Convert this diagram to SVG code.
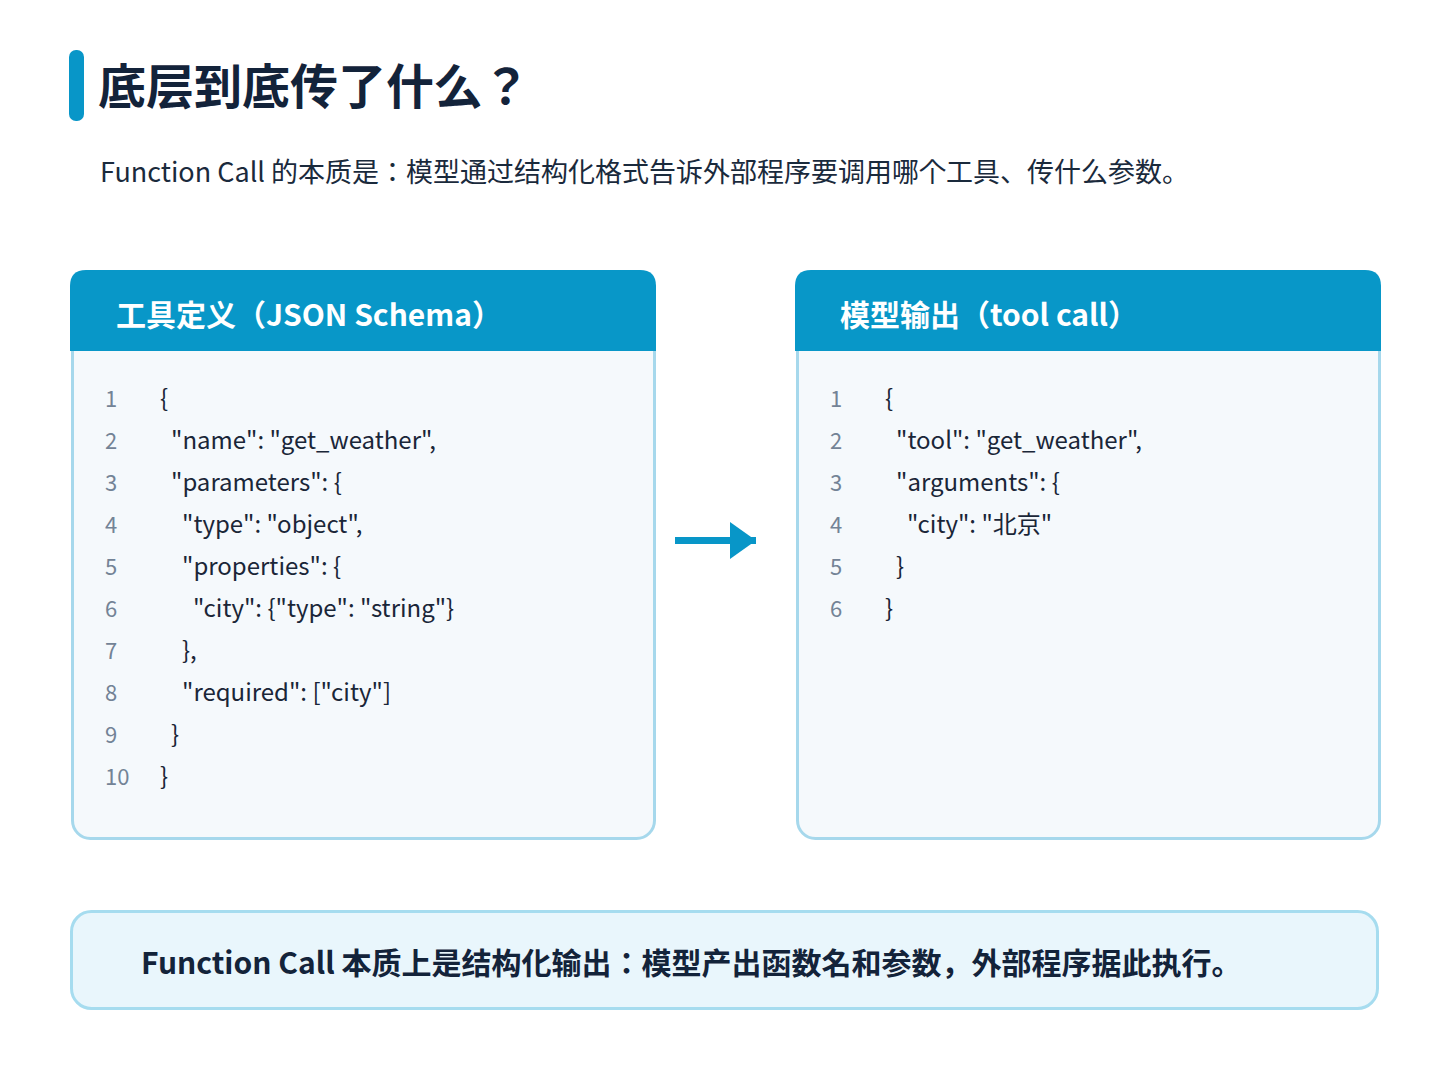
<svg xmlns="http://www.w3.org/2000/svg" width="1448" height="1086" viewBox="0 0 1448 1086">
<defs>
<style>
.t{font-family:"Noto Sans CJK JP","Noto Sans CJK SC","Noto Sans",sans-serif;}
.title{font-size:48px;font-weight:700;fill:#13233a;}
.sub{font-size:27px;font-weight:400;fill:#1a2a3c;}
.hdr{font-size:30px;font-weight:700;fill:#ffffff;}
.ln{font-size:22px;fill:#738396;}
.code{font-size:24px;fill:#1a2638;}
.card{fill:#f5f9fc;stroke:#a6d8ec;stroke-width:3;}
.head{fill:#0897c8;}
.note{fill:#e9f6fc;stroke:#a6dcef;stroke-width:3;}
.notetext{font-size:30px;font-weight:700;fill:#13233a;}
</style>
</defs>
<rect width="1448" height="1086" fill="#ffffff"/>
<g id="title">
<rect x="69" y="50" width="15" height="71" rx="7" fill="#0896c8"/>
<text class="t title" x="98" y="104">底层到底传了什么？</text>
<text class="t sub" x="100" y="182">Function Call 的本质是：模型通过结构化格式告诉外部程序要调用哪个工具、传什么参数。</text>
</g>
<g id="schema-card">
<rect class="card" x="72.5" y="271.5" width="582" height="567" rx="18"/>
<path class="head" d="M70 351 V286 Q70 270 86 270 H640 Q656 270 656 286 V351 Z"/>
<text class="t hdr" x="116" y="326">工具定义（JSON Schema）</text>
<g class="t ln">
<text x="105" y="407">1</text>
<text x="105" y="449">2</text>
<text x="105" y="491">3</text>
<text x="105" y="533">4</text>
<text x="105" y="575">5</text>
<text x="105" y="617">6</text>
<text x="105" y="659">7</text>
<text x="105" y="701">8</text>
<text x="105" y="743">9</text>
<text x="105" y="785">10</text>
</g>
<g class="t code">
<text x="160" y="407">{</text>
<text x="171" y="449">"name": "get_weather",</text>
<text x="171" y="491">"parameters": {</text>
<text x="182" y="533">"type": "object",</text>
<text x="182" y="575">"properties": {</text>
<text x="193" y="617">"city": {"type": "string"}</text>
<text x="182" y="659">},</text>
<text x="182" y="701">"required": ["city"]</text>
<text x="171" y="743">}</text>
<text x="160" y="785">}</text>
</g>
</g>
<g id="output-card">
<rect class="card" x="797.5" y="271.5" width="582" height="567" rx="18"/>
<path class="head" d="M795 351 V286 Q795 270 811 270 H1365 Q1381 270 1381 286 V351 Z"/>
<text class="t hdr" x="840" y="326">模型输出（tool call）</text>
<g class="t ln">
<text x="830" y="407">1</text>
<text x="830" y="449">2</text>
<text x="830" y="491">3</text>
<text x="830" y="533">4</text>
<text x="830" y="575">5</text>
<text x="830" y="617">6</text>
</g>
<g class="t code">
<text x="885" y="407">{</text>
<text x="896" y="449">"tool": "get_weather",</text>
<text x="896" y="491">"arguments": {</text>
<text x="907" y="533">"city": "北京"</text>
<text x="896" y="575">}</text>
<text x="885" y="617">}</text>
</g>
</g>
<g id="connectors">
<line x1="675" y1="540.5" x2="756" y2="540.5" stroke="#0896c8" stroke-width="7"/>
<polygon points="730,522 756,540.5 730,559" fill="#0896c8"/>
</g>
<g id="summary">
<rect class="note" x="71.5" y="911.5" width="1306" height="97" rx="20"/>
<text class="t notetext" x="141" y="974">Function Call 本质上是结构化输出：模型产出函数名和参数，外部程序据此执行。</text>
</g>
</svg>
